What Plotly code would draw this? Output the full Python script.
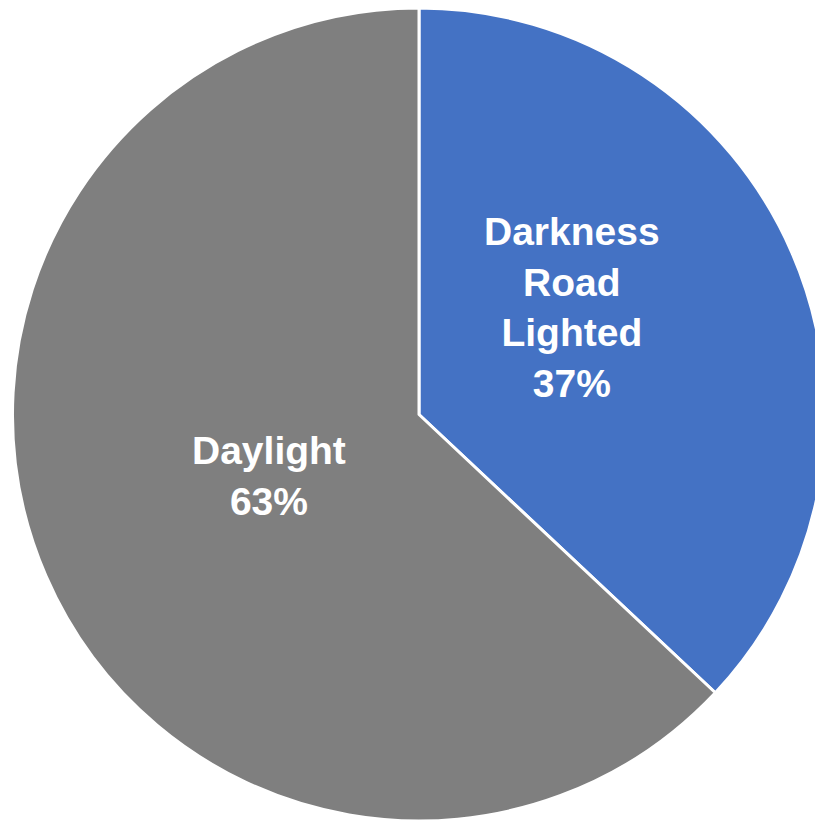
import math
import plotly.graph_objects as go

categories = ["Darkness<br>Road<br>Lighted", "Daylight"]
values = [37, 63]
colors = ["#4472C4", "#7F7F7F"]

# label placement style (radial fraction of radius, angle shift in degrees)
label_rfrac = [0.46, 0.40]
label_dangle = [-11.6, 1.0]

W = 823
dom_x = [4.5 / W, 817.5 / W]
dom_y = [10 / W, 1.0]

fig = go.Figure(go.Pie(
    labels=categories,
    values=values,
    marker=dict(colors=colors, line=dict(color="white", width=3)),
    sort=False,
    direction="clockwise",
    rotation=0,
    textinfo="none",
    hoverinfo="none",
    domain=dict(x=dom_x, y=dom_y),
))

cx = (dom_x[0] + dom_x[1]) / 2
cy = (dom_y[0] + dom_y[1]) / 2
R = min(dom_x[1] - dom_x[0], dom_y[1] - dom_y[0]) / 2
total = sum(values)
cum = 0
for lab, v, rf, da in zip(categories, values, label_rfrac, label_dangle):
    mid = (cum + v / 2) / total * 360 + da
    cum += v
    th = math.radians(mid)
    pct = round(v / total * 100)
    fig.add_annotation(
        x=cx + rf * R * math.sin(th), y=cy + rf * R * math.cos(th),
        xref="paper", yref="paper", xanchor="center", yanchor="middle",
        text=f"<b>{lab}<br>{pct}%</b>", showarrow=False,
        font=dict(family="Liberation Sans, Arial, sans-serif", size=39, color="white"),
    )

fig.update_layout(
    width=W, height=W,
    margin=dict(l=0, r=0, t=0, b=0),
    showlegend=False,
    paper_bgcolor="white",
)
fig.write_html("out.html", post_script="document.body.style.overflow='hidden';")
